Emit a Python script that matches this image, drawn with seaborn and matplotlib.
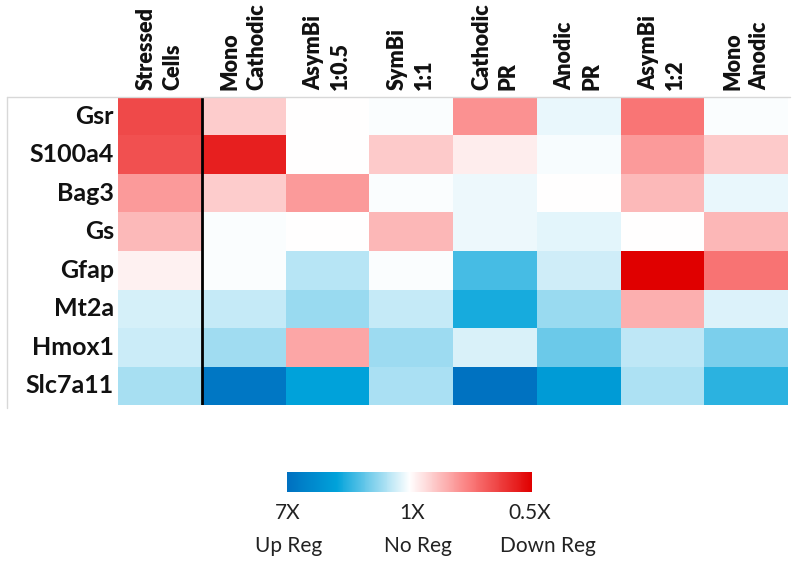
import numpy as np
import pandas as pd
import matplotlib
matplotlib.use("Agg")
import matplotlib.pyplot as plt
from matplotlib.colors import LinearSegmentedColormap
import seaborn as sns

genes = ["Gsr", "S100a4", "Bag3", "Gs", "Gfap", "Mt2a", "Hmox1", "Slc7a11"]
conditions = ["Stressed\nCells", "Mono\nCathodic", "AsymBi\n1:0.5", "SymBi\n1:1",
              "Cathodic\nPR", "Anodic\nPR", "AsymBi\n1:2", "Mono\nAnodic"]

# regulation score: -1 = 7X up-regulated (blue), 0 = no change, +1 = 0.5X (red)
stressed_cells = [0.70, 0.67, 0.38, 0.26, 0.05, -0.10, -0.12, -0.21]
mono_cathodic = [0.19, 0.87, 0.19, -0.01, -0.01, -0.14, -0.22, -0.94]
asymbi_1_05 = [0.00, 0.00, 0.38, 0.00, -0.17, -0.24, 0.33, -0.60]
symbi_1_1 = [-0.01, 0.20, -0.01, 0.27, -0.01, -0.14, -0.23, -0.20]
cathodic_pr = [0.41, 0.07, -0.04, -0.04, -0.43, -0.54, -0.09, -0.98]
anodic_pr = [-0.05, -0.02, 0.00, -0.07, -0.11, -0.24, -0.35, -0.65]
asymbi_1_2 = [0.52, 0.38, 0.26, 0.00, 1.00, 0.30, -0.15, -0.19]
mono_anodic = [-0.01, 0.20, -0.05, 0.27, 0.53, -0.08, -0.31, -0.50]

columns = [stressed_cells, mono_cathodic, asymbi_1_05, symbi_1_1,
           cathodic_pr, anodic_pr, asymbi_1_2, mono_anodic]

scale_ticks = ["7X", "1X", "0.5X"]
scale_names = ["Up Reg", "No Reg", "Down Reg"]

df = pd.DataFrame(np.array(columns).T, index=genes, columns=conditions)

cmap = LinearSegmentedColormap.from_list(
    "reg", [(0.0, "#0070C0"), (0.2, "#00A2DA"), (0.5, "#FFFFFF"),
            (0.75, "#FA7A7A"), (1.0, "#E00000")])

sns.set_style("white")
fig = plt.figure(figsize=(7.98, 5.68), dpi=100)
ax = fig.add_axes([118 / 798, 1 - 405 / 568, 670 / 798, 308 / 568])
cax = fig.add_axes([287 / 798, 1 - 492 / 568, 245 / 798, 20 / 568])

sns.heatmap(df, ax=ax, cmap=cmap, vmin=-1, vmax=1, cbar=True, cbar_ax=cax,
            cbar_kws={"orientation": "horizontal"})

ax.xaxis.tick_top()
ax.set_xlabel("")
ax.set_ylabel("")
ax.tick_params(axis="x", length=0, pad=5)
ax.tick_params(axis="y", length=0, pad=3)
ax.set_xticklabels(conditions, rotation=90, ha="center", va="bottom",
                   multialignment="left", fontsize=15.5, family="Lato",
                   fontweight="heavy", color="#111111", linespacing=1.35)
ax.set_yticklabels(genes, rotation=0, fontsize=18, family="Lato",
                   fontweight="bold", color="#111111")
ax.axvline(1, color="black", lw=2)

cbar = ax.collections[0].colorbar
cbar.outline.set_visible(False)
cax.set_xticks([])
cax.set_yticks([])

# faint table frame
fig.add_artist(plt.Line2D([7 / 798, 790 / 798], [1 - 97 / 568, 1 - 97 / 568],
                          color="#d8d8d8", lw=1))
fig.add_artist(plt.Line2D([7 / 798, 7 / 798], [1 - 97 / 568, 1 - 408 / 568],
                          color="#d8d8d8", lw=1))

tick_x = [288, 412, 530]
name_x = [289, 418, 548]
for x, t in zip(tick_x, scale_ticks):
    fig.text(x / 798, 1 - 513 / 568, t, ha="center", va="center",
             fontsize=15, family="Lato", color="#222222")
for x, t in zip(name_x, scale_names):
    fig.text(x / 798, 1 - 546 / 568, t, ha="center", va="center",
             fontsize=15, family="Lato", color="#222222")

fig.savefig("out.png", dpi=100)
